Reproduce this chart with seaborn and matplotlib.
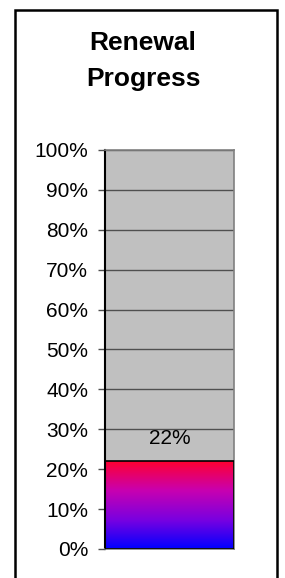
import numpy as np
import pandas as pd
import matplotlib
matplotlib.use("Agg")
import matplotlib.pyplot as plt
from matplotlib.colors import LinearSegmentedColormap
from matplotlib.patches import Rectangle
from matplotlib.ticker import PercentFormatter
import seaborn as sns

# Data
categories = ["Renewal"]
progress = [0.22]
y_ticks = [0.0, 0.1, 0.2, 0.3, 0.4, 0.5, 0.6, 0.7, 0.8, 0.9, 1.0]
title_lines = ["Renewal", "Progress"]

df = pd.DataFrame({"item": categories, "progress": progress})

sns.set_style("white")
plt.rcParams["font.family"] = ["Liberation Sans", "DejaVu Sans"]
plt.rcParams["text.color"] = "black"

fig = plt.figure(figsize=(2.85, 5.78), dpi=100)
ax = fig.add_axes([0.3684, 0.0502, 0.4526, 0.6903])

sns.barplot(data=df, x="item", y="progress", width=1.0, ax=ax,
            color="red", edgecolor="black", linewidth=1.2)

# gradient fill clipped to the bar
cmap = LinearSegmentedColormap.from_list(
    "renew", ["#0000FF", "#7A00E0", "#C800B0", "#FF0030"])
bar = ax.patches[0]
x0, y0 = bar.get_x(), bar.get_y()
x1, y1 = x0 + bar.get_width(), y0 + bar.get_height()
grad = np.linspace(0, 1, 256).reshape(-1, 1)
im = ax.imshow(grad, extent=[x0, x1, y0, y1], origin="lower",
               aspect="auto", cmap=cmap, zorder=2)
im.set_clip_path(bar)
bar.set_facecolor("none")
bar.set_zorder(3)

ax.set_xlim(-0.5, 0.5)
ax.set_ylim(0, 1)
ax.set_facecolor("#C0C0C0")
ax.set_yticks(y_ticks)
ax.yaxis.set_major_formatter(PercentFormatter(1.0, decimals=0))
ax.set_xticks([])
ax.set_xlabel("")
ax.set_ylabel("")
ax.set_axisbelow(True)
ax.yaxis.grid(True, color="#505050", linewidth=1)
ax.tick_params(axis="y", left=True, length=5, width=1, color="#505050",
               pad=7, labelsize=15, labelcolor="black")

for side in ["top", "right", "bottom"]:
    ax.spines[side].set_color("#808080")
    ax.spines[side].set_linewidth(1.2)
ax.spines["left"].set_color("black")
ax.spines["left"].set_linewidth(1.5)

# value label
ax.text(0, progress[0] + 0.058, f"{progress[0]:.0%}", ha="center",
        va="center", fontsize=15, color="black")

# title
fig.text(0.502, 0.8945, "\n".join(title_lines), ha="center", va="center",
         fontsize=19, fontweight="bold", linespacing=1.6, color="black")

# chart border
fig.patches.append(Rectangle((15 / 285, -0.05), 262 / 285, 1.05 - 10 / 578,
                             transform=fig.transFigure, fill=False,
                             edgecolor="black", linewidth=1.8))

fig.savefig("out.png", dpi=100)
